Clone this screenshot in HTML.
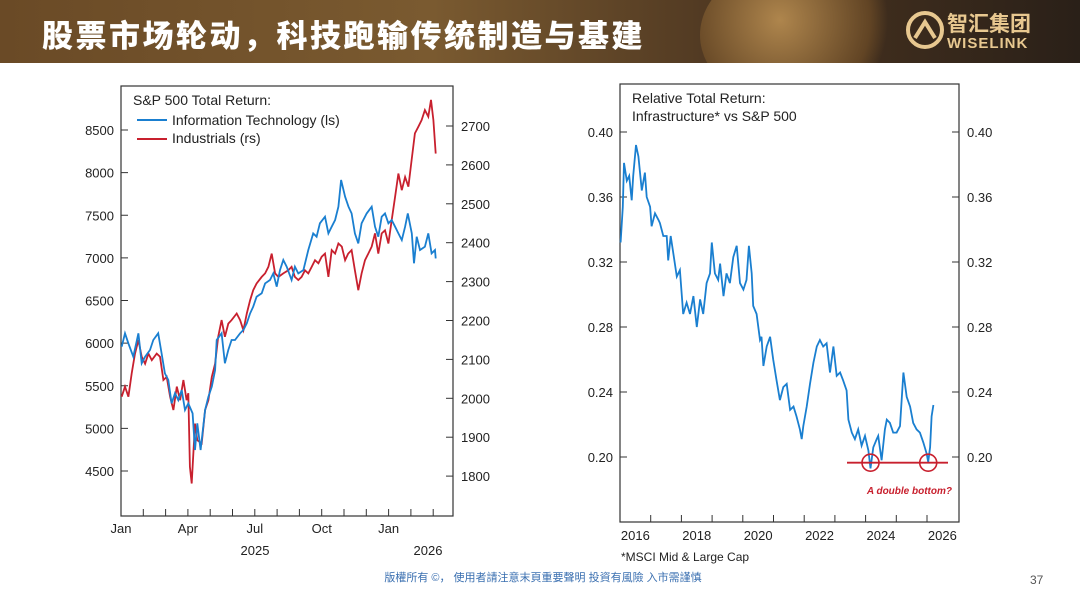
<!DOCTYPE html>
<html><head><meta charset="utf-8">
<style>
body{margin:0;width:1080px;height:608px;overflow:hidden;background:#fff;font-family:"Liberation Sans","Noto Sans CJK SC",sans-serif;position:relative}
#hdr{position:absolute;left:0;top:0;width:1080px;height:63px;overflow:hidden;background:linear-gradient(90deg,#6a4a26 0%,#7a5a30 40%,#4a3420 70%,#2a2018 100%)}
#title{position:absolute;left:42px;top:11px;font-size:31px;font-weight:900;color:#fff;letter-spacing:2.5px;white-space:nowrap;font-family:"Noto Sans CJK SC",sans-serif}
#globe{position:absolute;left:700px;top:-40px;width:200px;height:150px;border-radius:50%;background:radial-gradient(circle at 40% 40%,#c89a58,#6a4a26 60%,transparent 72%);opacity:.8}
#logo{position:absolute;left:905px;top:8px;color:#e8c890;font-weight:bold}
#footer{position:absolute;left:0;width:1086px;top:569px;text-align:center;font-size:11px;color:#3a6fb0}
#pg{position:absolute;left:1030px;top:573px;font-size:12px;color:#555}
svg text{font-family:"Liberation Sans",sans-serif}
</style></head><body>
<div id="hdr"><div id="globe"></div>
<div id="title">股票市场轮动，科技跑输传统制造与基建</div>
<div id="logo">
<svg width="40" height="40" style="position:absolute;left:0;top:2px"><circle cx="20" cy="20" r="17" fill="none" stroke="#e8c890" stroke-width="4"/><path d="M10 28 L20 12 L30 28" fill="none" stroke="#e8c890" stroke-width="4"/></svg>
<div style="position:absolute;left:42px;top:0;font-size:21px;white-space:nowrap;font-family:'Noto Sans CJK SC',sans-serif">智汇集团</div>
<div style="position:absolute;left:42px;top:27px;font-size:15px;letter-spacing:1px;white-space:nowrap">WISELINK</div>
</div></div>
<svg id="chart" width="1080" height="608" style="position:absolute;left:0;top:0"></svg>
<div id="footer">版權所有 ©， 使用者請注意末頁重要聲明  投資有風險 入市需謹慎</div>
<div id="pg">37</div>
<script>
// Left chart data: month offset from Jan 2025, values
const itMonths=[0.03,0.18,0.33,0.55,0.78,0.93,1.08,1.30,1.45,1.67,1.82,1.97,2.12,2.27,2.42,2.57,2.72,2.87,3.02,3.21,3.32,3.42,3.57,3.77,3.92,4.07,4.22,4.29,4.51,4.66,4.81,4.96,5.11,5.34,5.49,5.64,5.79,5.93,6.08,6.31,6.46,6.68,6.83,6.98,7.13,7.28,7.43,7.65,7.80,7.95,8.18,8.40,8.62,8.77,8.92,9.15,9.30,9.45,9.60,9.75,9.87,10.05,10.20,10.34,10.49,10.64,10.79,11.02,11.24,11.39,11.54,11.69,11.84,11.99,12.14,12.29,12.44,12.59,12.74,12.86,13.04,13.14,13.26,13.41,13.63,13.78,13.93,14.08,14.11];
const itValues=[5958,6115,5997,5841,6115,5763,5841,5919,6037,6115,5880,5645,5567,5293,5411,5332,5450,5215,5293,5176,4746,5059,4746,5215,5372,5489,5684,6037,6115,5763,5919,6037,6037,6115,6154,6232,6349,6427,6545,6584,6701,6740,6818,6662,6857,6975,6896,6740,6896,6818,6857,7092,7287,7248,7405,7483,7287,7366,7444,7600,7913,7718,7600,7522,7287,7170,7405,7522,7600,7366,7248,7483,7522,7405,7444,7366,7287,7209,7366,7522,7287,6936,7248,7092,7131,7287,7053,7092,6994];
const indZx=[35,45,55,65,75,85,95,105,115,125,140,150,160,170,180,190,200,210,220,230,235,240,245,255,262,275,285,295,305,315,325,335,345,355,365,380,390,400,410,420,430,440,455,465,475,485,495,505,520,535,545,555,565,575,585,595,605,615,625,635,645,655,665,675,685,695,705,715,725,735,745,755,765,775,785,795,805,815,825,835,845,855,865,875,885,895,905,915,925,935,945,955,963,970,977];
const indMonths=indZx.map(z=>+(z/66.9-0.493).toFixed(2));
const indValues=[2004,2030,2004,2064,2115,2150,2107,2089,2115,2098,2115,2107,2047,2055,2004,1970,2030,1995,2047,1995,2013,1824,1781,1935,1892,1884,1970,1995,2055,2089,2158,2201,2158,2192,2201,2218,2201,2175,2218,2252,2278,2295,2312,2321,2338,2372,2321,2312,2321,2329,2338,2312,2304,2312,2329,2321,2338,2355,2347,2364,2372,2312,2381,2372,2398,2390,2355,2372,2381,2329,2278,2321,2355,2372,2390,2424,2372,2424,2432,2398,2458,2518,2578,2535,2569,2544,2612,2681,2698,2715,2741,2724,2767,2715,2629];
const leftTicks=[4500,5000,5500,6000,6500,7000,7500,8000,8500];
const rightTicks=[1800,1900,2000,2100,2200,2300,2400,2500,2600,2700];
const monthLabels=["Jan","Apr","Jul","Oct","Jan"];
const monthLabelPos=[0,3,6,9,12];
// Right chart data
const infYears=[2016.02,2016.09,2016.13,2016.22,2016.30,2016.38,2016.43,2016.52,2016.60,2016.71,2016.81,2016.87,2016.98,2017.03,2017.14,2017.25,2017.30,2017.41,2017.52,2017.57,2017.65,2017.74,2017.85,2017.95,2018.06,2018.17,2018.28,2018.39,2018.50,2018.61,2018.71,2018.82,2018.93,2018.99,2019.09,2019.20,2019.26,2019.37,2019.47,2019.58,2019.69,2019.80,2019.91,2020.02,2020.12,2020.20,2020.29,2020.34,2020.45,2020.56,2020.61,2020.67,2020.78,2020.89,2020.99,2021.10,2021.21,2021.32,2021.43,2021.54,2021.65,2021.75,2021.86,2021.92,2021.97,2022.08,2022.19,2022.30,2022.41,2022.51,2022.62,2022.73,2022.84,2022.95,2023.06,2023.17,2023.27,2023.38,2023.44,2023.55,2023.65,2023.76,2023.87,2023.98,2024.09,2024.16,2024.25,2024.36,2024.41,2024.52,2024.63,2024.69,2024.79,2024.90,2025.01,2025.12,2025.23,2025.34,2025.45,2025.55,2025.66,2025.77,2025.88,2025.99,2026.04,2026.10,2026.15,2026.21];
const infValues=[0.332,0.354,0.381,0.370,0.373,0.358,0.373,0.392,0.385,0.364,0.375,0.360,0.354,0.342,0.350,0.346,0.344,0.336,0.336,0.321,0.336,0.325,0.311,0.315,0.288,0.295,0.288,0.299,0.280,0.297,0.288,0.307,0.313,0.332,0.313,0.309,0.319,0.299,0.313,0.307,0.323,0.330,0.307,0.303,0.309,0.330,0.313,0.293,0.288,0.272,0.274,0.256,0.268,0.274,0.260,0.247,0.235,0.243,0.245,0.229,0.231,0.225,0.217,0.211,0.219,0.231,0.245,0.258,0.268,0.272,0.268,0.270,0.252,0.268,0.250,0.252,0.247,0.241,0.223,0.215,0.211,0.217,0.207,0.213,0.204,0.193,0.206,0.211,0.213,0.198,0.217,0.223,0.221,0.215,0.215,0.219,0.252,0.237,0.231,0.221,0.217,0.215,0.209,0.202,0.197,0.206,0.225,0.232];
const infTicks=[0.20,0.24,0.28,0.32,0.36,0.40];
const yearLabels=["2016","2018","2020","2022","2024","2026"];
const bottomLevel=0.1965;
const bottomYears=[2024.16,2026.04];

const NS="http://www.w3.org/2000/svg";
const svg=document.getElementById('chart');
function mk(t,a,txt){const e=document.createElementNS(NS,t);for(const k in a)e.setAttribute(k,a[k]);if(txt!=null)e.textContent=txt;svg.appendChild(e);return e;}
const lx=m=>121+m*22.3;
const lyL=v=>130+(8500-v)*0.08525;
const lyR=v=>126+(2700-v)*0.389;
let e;
e=mk('rect',{x:121,y:86,width:332,height:430,fill:'none',stroke:'#333','stroke-width':1.2});

leftTicks.forEach(v=>{const y=lyL(v);mk('line',{x1:121,x2:128,y1:y,y2:y,stroke:'#333'});
 e=mk('text',{x:114,y:y+5,'text-anchor':'end','font-size':13,fill:'#222'},v);
 });
rightTicks.forEach(v=>{const y=lyR(v);mk('line',{x1:446,x2:453,y1:y,y2:y,stroke:'#333'});
 e=mk('text',{x:461,y:y+5,'font-size':13,fill:'#222'},v);
 });
for(let m=0;m<=14;m++){const x=lx(m);mk('line',{x1:x,x2:x,y1:509,y2:516,stroke:'#333'});}
monthLabels.forEach((l,i)=>{e=mk('text',{x:lx(monthLabelPos[i]),y:533,'text-anchor':'middle','font-size':13,fill:'#222'},l);
 });
e=mk('text',{x:255,y:555,'text-anchor':'middle','font-size':13,fill:'#222'},'2025');
e=mk('text',{x:428,y:555,'text-anchor':'middle','font-size':13,fill:'#222'},'2026');
let d=indMonths.map((m,i)=>(i?'L':'M')+lx(m).toFixed(1)+' '+lyR(indValues[i]).toFixed(1)).join('');
e=mk('path',{d:d,fill:'none',stroke:'#c8202e','stroke-width':1.8});

d=itMonths.map((m,i)=>(i?'L':'M')+lx(m).toFixed(1)+' '+lyL(itValues[i]).toFixed(1)).join('');
e=mk('path',{d:d,fill:'none',stroke:'#1a7fd0','stroke-width':1.8});

e=mk('text',{x:133,y:105,'font-size':14,fill:'#222'},'S&P 500 Total Return:');
mk('line',{x1:137,x2:167,y1:120,y2:120,stroke:'#1a7fd0','stroke-width':2});
e=mk('text',{x:172,y:125,'font-size':14,fill:'#222'},'Information Technology (ls)');
mk('line',{x1:137,x2:167,y1:139,y2:139,stroke:'#c8202e','stroke-width':2});
e=mk('text',{x:172,y:143,'font-size':14,fill:'#222'},'Industrials (rs)');
const rx=yr=>620+(yr-2016)*30.7;
const ry=v=>132+(0.40-v)*1625;
e=mk('rect',{x:620,y:84,width:339,height:438,fill:'none',stroke:'#333','stroke-width':1.2});

infTicks.forEach(v=>{const y=ry(v);mk('line',{x1:620,x2:627,y1:y,y2:y,stroke:'#333'});mk('line',{x1:952,x2:959,y1:y,y2:y,stroke:'#333'});
 e=mk('text',{x:613,y:y+5,'text-anchor':'end','font-size':13,fill:'#222'},v.toFixed(2));
 e=mk('text',{x:967,y:y+5,'font-size':13,fill:'#222'},v.toFixed(2));});
for(let y=2016;y<=2026;y++){const x=rx(y);mk('line',{x1:x,x2:x,y1:515,y2:522,stroke:'#333'});}
yearLabels.forEach(l=>{e=mk('text',{x:rx(+l+0.5),y:540,'text-anchor':'middle','font-size':13,fill:'#222'},l);});
d=infYears.map((yr,i)=>(i?'L':'M')+rx(yr).toFixed(1)+' '+ry(infValues[i]).toFixed(1)).join('');
e=mk('path',{d:d,fill:'none',stroke:'#1a7fd0','stroke-width':1.8});

e=mk('line',{x1:847,x2:948,y1:ry(bottomLevel),y2:ry(bottomLevel),stroke:'#c8202e','stroke-width':1.8});

bottomYears.forEach(yr=>{e=mk('circle',{cx:rx(yr),cy:ry(bottomLevel),r:8.5,fill:'none',stroke:'#c8202e','stroke-width':1.6});
 });
e=mk('text',{x:952,y:494,'text-anchor':'end','font-size':10,'font-weight':'bold','font-style':'italic',fill:'#c8202e'},'A double bottom?');

e=mk('text',{x:632,y:103,'font-size':14,fill:'#222'},'Relative Total Return:');
e=mk('text',{x:632,y:121,'font-size':14,fill:'#222'},'Infrastructure* vs S&P 500');
e=mk('text',{x:621,y:561,'font-size':12,fill:'#222'},'*MSCI Mid & Large Cap');
</script>
</body></html>
